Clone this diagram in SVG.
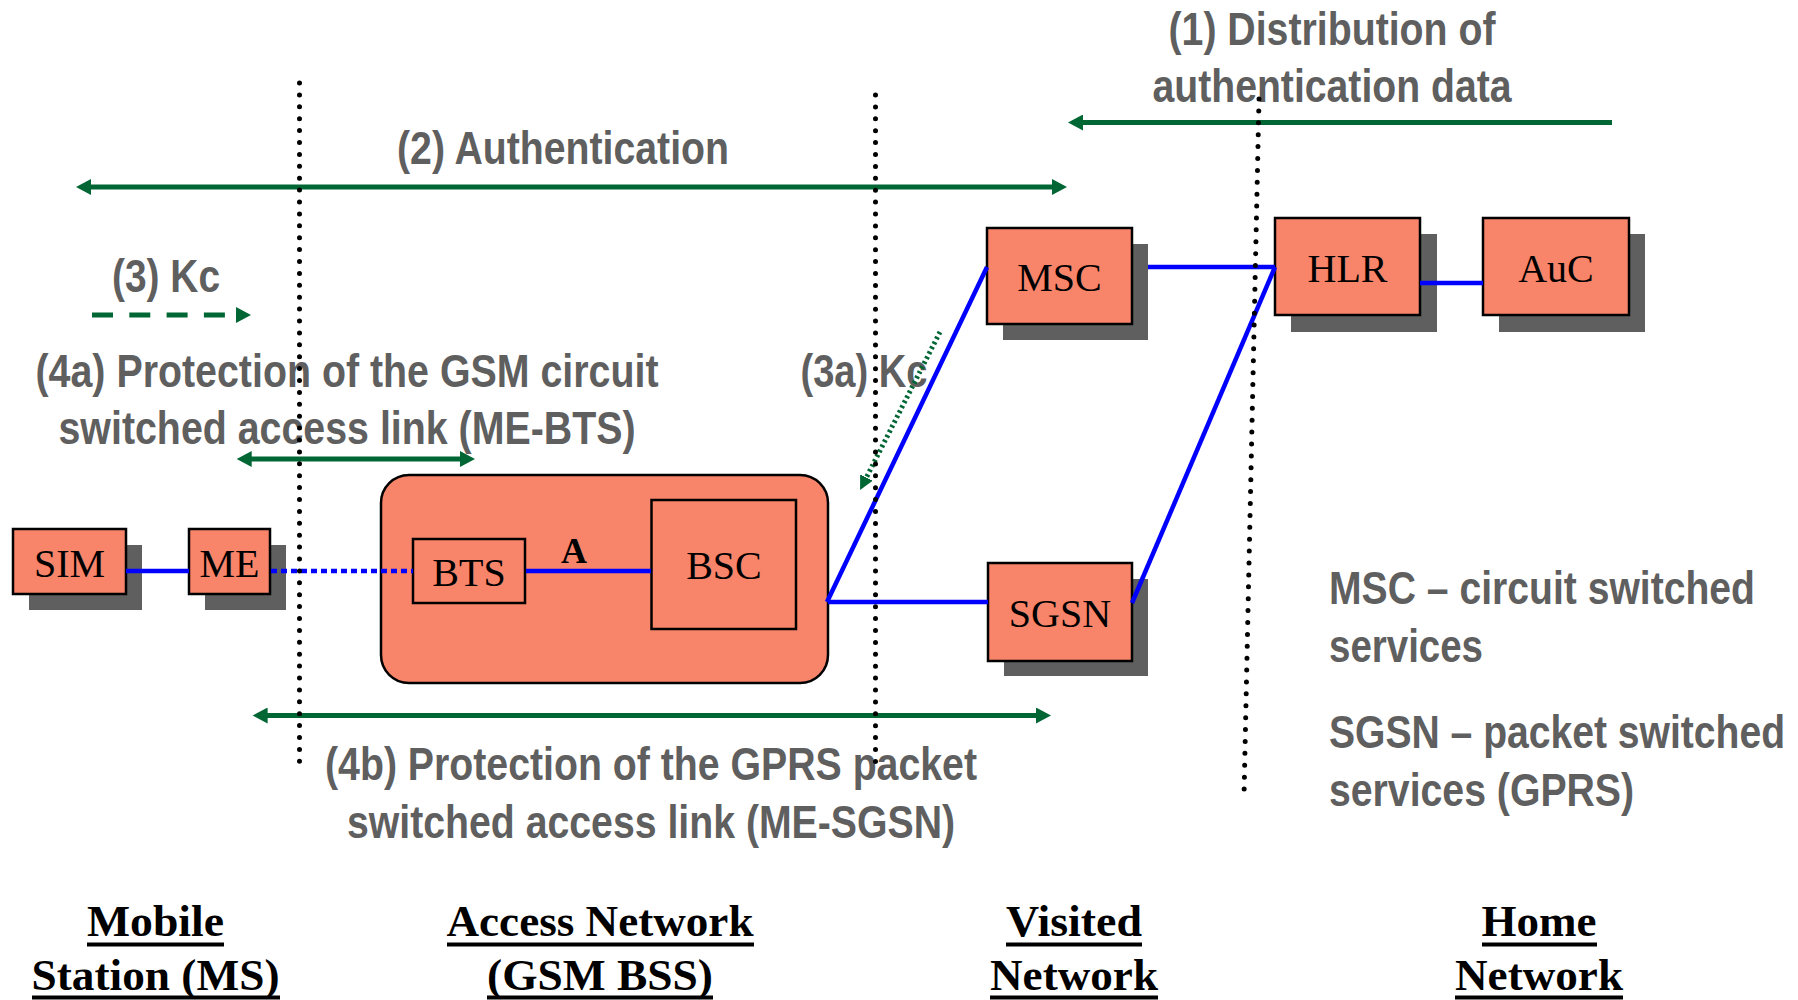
<svg xmlns="http://www.w3.org/2000/svg" width="1798" height="1000" viewBox="0 0 1798 1000">
<style>
.lbl{font-family:"Liberation Sans Narrow","Arial Narrow","Liberation Sans",Arial,sans-serif;font-weight:bold;font-size:46px;fill:#5f5f5f}
.mid{text-anchor:middle}
.nt{font-family:"Liberation Serif","Times New Roman",serif;font-size:40px;fill:#000;text-anchor:middle}
.zone{font-family:"Liberation Serif","Times New Roman",serif;font-weight:bold;font-size:45px;fill:#000;text-anchor:middle}
.ul{stroke:#000;stroke-width:4}
.box{fill:#f8846a;stroke:#000;stroke-width:2.5}
.shadow{fill:#5f5f5f}
.blue{stroke:#0000ff;stroke-width:4.5;fill:none}
.green{stroke:#006633;stroke-width:5;fill:none}
.sep{stroke:#000;stroke-width:5;stroke-linecap:round;stroke-dasharray:0 11.9;fill:none}
</style>
<defs>
<marker id="ah" markerUnits="userSpaceOnUse" markerWidth="16" markerHeight="16" refX="2" refY="8" orient="auto-start-reverse">
<path d="M0,0 L15,8 L0,16 z" fill="#006633"/>
</marker>
<marker id="ahs" markerUnits="userSpaceOnUse" markerWidth="15" markerHeight="15" refX="2" refY="7" orient="auto">
<path d="M0,0 L14,7 L0,14 z" fill="#006633"/>
</marker>
</defs>

<g id="labels">
<text class="lbl mid" transform="translate(1332,45) scale(0.82,1)" textLength="398.8" lengthAdjust="spacingAndGlyphs">(1) Distribution of</text>
<text class="lbl mid" transform="translate(1332,102) scale(0.82,1)" textLength="437.8" lengthAdjust="spacingAndGlyphs">authentication data</text>
<text class="lbl mid" transform="translate(563,164) scale(0.82,1)" textLength="404.9" lengthAdjust="spacingAndGlyphs">(2) Authentication</text>
<text class="lbl mid" transform="translate(166,292) scale(0.82,1)" textLength="131.7" lengthAdjust="spacingAndGlyphs">(3) Kc</text>
<text class="lbl mid" transform="translate(347,387) scale(0.82,1)" textLength="759.8" lengthAdjust="spacingAndGlyphs">(4a) Protection of the GSM circuit</text>
<text class="lbl mid" transform="translate(347,444) scale(0.82,1)" textLength="703.7" lengthAdjust="spacingAndGlyphs">switched access link (ME-BTS)</text>
<text class="lbl mid" transform="translate(864,387) scale(0.82,1)" textLength="154.9" lengthAdjust="spacingAndGlyphs">(3a) Kc</text>
<text class="lbl mid" transform="translate(651,780) scale(0.82,1)" textLength="795.1" lengthAdjust="spacingAndGlyphs">(4b) Protection of the GPRS packet</text>
<text class="lbl mid" transform="translate(651,838) scale(0.82,1)" textLength="741.5" lengthAdjust="spacingAndGlyphs">switched access link (ME-SGSN)</text>
<text class="lbl" transform="translate(1329,604) scale(0.82,1)" textLength="519.5" lengthAdjust="spacingAndGlyphs">MSC – circuit switched</text>
<text class="lbl" transform="translate(1329,662) scale(0.82,1)" textLength="187.8" lengthAdjust="spacingAndGlyphs">services</text>
<text class="lbl" transform="translate(1329,748) scale(0.82,1)" textLength="556.1" lengthAdjust="spacingAndGlyphs">SGSN – packet switched</text>
<text class="lbl" transform="translate(1329,806) scale(0.82,1)" textLength="372" lengthAdjust="spacingAndGlyphs">services (GPRS)</text>
</g>

<g id="zones">
<text class="zone" x="155.5" y="936" textLength="137" lengthAdjust="spacingAndGlyphs">Mobile</text>
<line class="ul" x1="87" y1="944.5" x2="224" y2="944.5"/>
<text class="zone" x="155.5" y="990" textLength="248" lengthAdjust="spacingAndGlyphs">Station (MS)</text>
<line class="ul" x1="32" y1="997.5" x2="280" y2="997.5"/>
<text class="zone" x="600" y="936" textLength="307" lengthAdjust="spacingAndGlyphs">Access Network</text>
<line class="ul" x1="447" y1="944.5" x2="754" y2="944.5"/>
<text class="zone" x="600" y="990" textLength="226" lengthAdjust="spacingAndGlyphs">(GSM BSS)</text>
<line class="ul" x1="487" y1="997.5" x2="713" y2="997.5"/>
<text class="zone" x="1074" y="936" textLength="136" lengthAdjust="spacingAndGlyphs">Visited</text>
<line class="ul" x1="1006" y1="944.5" x2="1142" y2="944.5"/>
<text class="zone" x="1074" y="990" textLength="168" lengthAdjust="spacingAndGlyphs">Network</text>
<line class="ul" x1="990" y1="997.5" x2="1158" y2="997.5"/>
<text class="zone" x="1539" y="936" textLength="115" lengthAdjust="spacingAndGlyphs">Home</text>
<line class="ul" x1="1482" y1="944.5" x2="1597" y2="944.5"/>
<text class="zone" x="1539" y="990" textLength="168" lengthAdjust="spacingAndGlyphs">Network</text>
<line class="ul" x1="1455" y1="997.5" x2="1623" y2="997.5"/>
</g>

<g id="node-sim"><rect class="shadow" x="29" y="545" width="113" height="65"/><rect class="box" x="13" y="529" width="113" height="65"/><text class="nt" x="69.5" y="577">SIM</text></g>
<g id="node-me"><rect class="shadow" x="205" y="545" width="81" height="65"/><rect class="box" x="189" y="529" width="81" height="65"/><text class="nt" x="229.5" y="577">ME</text></g>
<g id="node-bss">
<rect class="box" x="381" y="475" width="447" height="208" rx="28" ry="28"/>
<g id="node-bts"><rect class="box" x="413" y="539" width="112" height="64"/><text class="nt" x="469" y="586">BTS</text></g>
<g id="node-bsc"><rect class="box" x="651.5" y="500" width="144.5" height="129"/><text class="nt" x="724" y="579">BSC</text></g>
<text x="574" y="563" font-family="Liberation Serif, Times New Roman, serif" font-weight="bold" font-size="36" text-anchor="middle">A</text>
</g>
<g id="node-msc"><rect class="shadow" x="1003" y="244" width="145" height="96"/><rect class="box" x="987" y="228" width="145" height="96"/><text class="nt" x="1059.5" y="291">MSC</text></g>
<g id="node-hlr"><rect class="shadow" x="1291" y="234" width="146" height="98"/><rect class="box" x="1275" y="218" width="145" height="97"/><text class="nt" x="1347.5" y="282">HLR</text></g>
<g id="node-auc"><rect class="shadow" x="1499" y="234" width="146" height="98"/><rect class="box" x="1483" y="218" width="146" height="97"/><text class="nt" x="1556" y="282">AuC</text></g>
<g id="node-sgsn"><rect class="shadow" x="1004" y="579" width="144" height="97"/><rect class="box" x="988" y="563" width="144" height="98"/><text class="nt" x="1060" y="626.5">SGSN</text></g>

<g id="connectors">
<line class="blue" x1="126" y1="571" x2="189" y2="571"/>
<line class="blue" x1="271" y1="571" x2="413" y2="571" stroke-width="5" stroke-dasharray="6 4"/>
<line class="blue" x1="526" y1="571" x2="651" y2="571"/>
<line class="blue" x1="828" y1="602" x2="988" y2="602"/>
<line class="blue" x1="987" y1="267" x2="827" y2="602"/>
<line class="blue" x1="1148" y1="267" x2="1275" y2="267"/>
<line class="blue" x1="1275" y1="267" x2="1132" y2="603"/>
<line class="blue" x1="1420" y1="283" x2="1483" y2="283" stroke-width="5"/>
</g>

<g id="arrows">
<line class="green" x1="1612" y1="122.5" x2="1081" y2="122.5" marker-end="url(#ah)"/>
<line class="green" x1="89" y1="187" x2="1054" y2="187" marker-start="url(#ah)" marker-end="url(#ah)"/>
<line class="green" x1="92" y1="315" x2="238" y2="315" stroke-dasharray="21 16.3" marker-end="url(#ah)"/>
<line class="green" x1="249.7" y1="459" x2="462" y2="459" marker-start="url(#ah)" marker-end="url(#ah)"/>
<line class="green" x1="265.6" y1="715.5" x2="1038" y2="715.5" marker-start="url(#ah)" marker-end="url(#ah)"/>
<line class="green" x1="940" y1="332" x2="865.5" y2="479.3" stroke-width="2.5" stroke-dasharray="2.5 3" marker-end="url(#ahs)"/>
</g>

<g id="separators">
<line class="sep" x1="299.5" y1="83" x2="299.5" y2="771"/>
<line class="sep" x1="875.5" y1="95" x2="875.5" y2="767"/>
<line class="sep" x1="1259" y1="99" x2="1244" y2="796"/>
</g>
</svg>
